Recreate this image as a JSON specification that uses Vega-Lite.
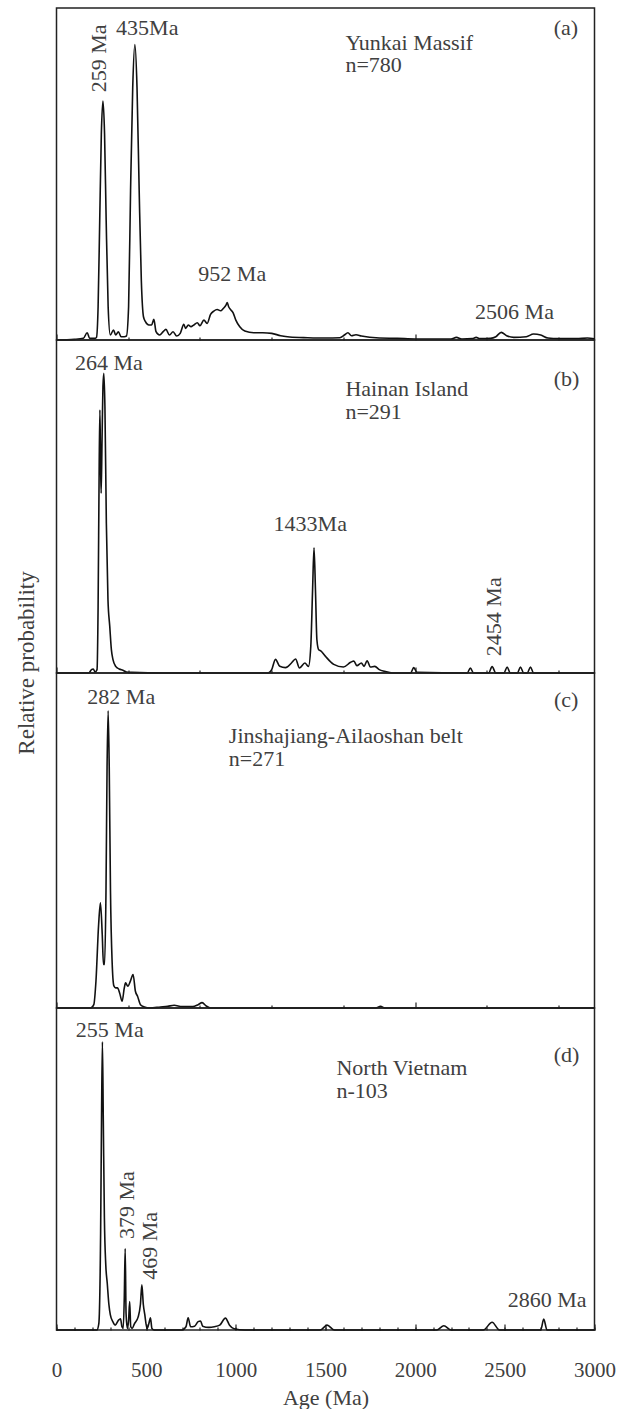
{
  "$schema": "https://vega.github.io/schema/vega-lite/v6.json",
  "padding": {"left": 14.5, "top": 7, "right": 0, "bottom": 0},
  "spacing": 0,
  "bounds": "flush",
  "title": {"text": "Relative probability", "orient": "left", "anchor": "middle", "fontSize": 23, "font": "Liberation Serif", "fontWeight": "normal", "color": "#404040", "offset": 12, "dx": 45},
  "config": {
    "view": {"stroke": "#222", "strokeWidth": 1.5},
    "font": "Liberation Serif",
    "axis": {"labelOverlap": false}
  },
  "datasets": {
    "curves": [
      {"panel":"a","age":0,"p":0},{"panel":"a","age":100,"p":0.2},{"panel":"a","age":150,"p":0.5},{"panel":"a","age":171,"p":2.2},{"panel":"a","age":185,"p":0.5},{"panel":"a","age":215,"p":0.5},
      {"panel":"a","age":223,"p":0.8},{"panel":"a","age":232,"p":10},{"panel":"a","age":241,"p":36},{"panel":"a","age":250,"p":62},{"panel":"a","age":259,"p":72},{"panel":"a","age":268,"p":62},{"panel":"a","age":277,"p":36},{"panel":"a","age":288,"p":10},{"panel":"a","age":300,"p":1.5},
      {"panel":"a","age":318,"p":3},{"panel":"a","age":330,"p":1.5},{"panel":"a","age":345,"p":2.5},{"panel":"a","age":360,"p":1},{"panel":"a","age":378,"p":1},{"panel":"a","age":390,"p":1.2},
      {"panel":"a","age":402,"p":10},{"panel":"a","age":413,"p":45},{"panel":"a","age":425,"p":76},{"panel":"a","age":437,"p":89},{"panel":"a","age":449,"p":76},{"panel":"a","age":461,"p":45},{"panel":"a","age":473,"p":18},{"panel":"a","age":485,"p":7},{"panel":"a","age":496,"p":5.5},
      {"panel":"a","age":515,"p":4.5},{"panel":"a","age":530,"p":4.5},{"panel":"a","age":543,"p":6.2},{"panel":"a","age":555,"p":2.5},{"panel":"a","age":575,"p":1.5},{"panel":"a","age":595,"p":2.5},{"panel":"a","age":610,"p":3.2},{"panel":"a","age":630,"p":1.5},{"panel":"a","age":650,"p":2.5},{"panel":"a","age":670,"p":1.2},{"panel":"a","age":690,"p":2},
      {"panel":"a","age":710,"p":4.7},{"panel":"a","age":720,"p":3.5},{"panel":"a","age":735,"p":4.5},{"panel":"a","age":750,"p":4},{"panel":"a","age":765,"p":4.5},{"panel":"a","age":785,"p":5.2},{"panel":"a","age":800,"p":4.3},{"panel":"a","age":822,"p":6},{"panel":"a","age":840,"p":5},{"panel":"a","age":859,"p":7.7},{"panel":"a","age":877,"p":8.7},{"panel":"a","age":896,"p":9.2},{"panel":"a","age":915,"p":8.8},{"panel":"a","age":930,"p":9.5},{"panel":"a","age":945,"p":10.5},{"panel":"a","age":952,"p":11.3},{"panel":"a","age":960,"p":10},{"panel":"a","age":970,"p":9.2},{"panel":"a","age":985,"p":8.2},{"panel":"a","age":1000,"p":6},{"panel":"a","age":1022,"p":4},{"panel":"a","age":1050,"p":2.7},
      {"panel":"a","age":1100,"p":2.2},{"panel":"a","age":1150,"p":2.2},{"panel":"a","age":1200,"p":2},{"panel":"a","age":1250,"p":1.3},{"panel":"a","age":1300,"p":0.9},{"panel":"a","age":1400,"p":0.7},{"panel":"a","age":1500,"p":0.6},{"panel":"a","age":1580,"p":0.7},{"panel":"a","age":1605,"p":1.5},{"panel":"a","age":1625,"p":2.2},{"panel":"a","age":1645,"p":1.3},{"panel":"a","age":1670,"p":1.6},{"panel":"a","age":1700,"p":1.2},{"panel":"a","age":1800,"p":0.6},{"panel":"a","age":1900,"p":0.5},{"panel":"a","age":2000,"p":0.3},{"panel":"a","age":2100,"p":0.3},{"panel":"a","age":2200,"p":0.3},{"panel":"a","age":2230,"p":0.8},{"panel":"a","age":2260,"p":0.3},{"panel":"a","age":2320,"p":0.4},{"panel":"a","age":2340,"p":0.8},{"panel":"a","age":2360,"p":0.4},{"panel":"a","age":2420,"p":0.5},{"panel":"a","age":2450,"p":1},{"panel":"a","age":2480,"p":2.3},{"panel":"a","age":2510,"p":1.3},{"panel":"a","age":2550,"p":0.8},{"panel":"a","age":2620,"p":1},{"panel":"a","age":2660,"p":1.8},{"panel":"a","age":2700,"p":1.5},{"panel":"a","age":2740,"p":0.6},{"panel":"a","age":2800,"p":0.4},{"panel":"a","age":2900,"p":0.4},{"panel":"a","age":2960,"p":0.6},{"panel":"a","age":3000,"p":0.4},

      {"panel":"b","age":0,"p":0},{"panel":"b","age":180,"p":0},{"panel":"b","age":195,"p":1},{"panel":"b","age":205,"p":1.2},{"panel":"b","age":215,"p":0.3},{"panel":"b","age":226,"p":1},{"panel":"b","age":232,"p":20},{"panel":"b","age":238,"p":62},{"panel":"b","age":242,"p":79},{"panel":"b","age":246,"p":62},{"panel":"b","age":249,"p":54},{"panel":"b","age":254,"p":70},{"panel":"b","age":259,"p":86},{"panel":"b","age":264,"p":90},{"panel":"b","age":270,"p":80},{"panel":"b","age":278,"p":45},{"panel":"b","age":287,"p":22},{"panel":"b","age":297,"p":14},{"panel":"b","age":306,"p":7},{"panel":"b","age":315,"p":4},{"panel":"b","age":330,"p":2},{"panel":"b","age":350,"p":1.2},{"panel":"b","age":370,"p":0.8},{"panel":"b","age":390,"p":0.3},{"panel":"b","age":420,"p":0.2},{"panel":"b","age":600,"p":0},
      {"panel":"b","age":1180,"p":0},{"panel":"b","age":1200,"p":1},{"panel":"b","age":1221,"p":4.1},{"panel":"b","age":1245,"p":2},{"panel":"b","age":1277,"p":1.6},{"panel":"b","age":1310,"p":3},{"panel":"b","age":1333,"p":4.2},{"panel":"b","age":1355,"p":1.5},{"panel":"b","age":1385,"p":3},{"panel":"b","age":1405,"p":2},{"panel":"b","age":1418,"p":8},{"panel":"b","age":1428,"p":25},{"panel":"b","age":1436,"p":37.6},{"panel":"b","age":1444,"p":25},{"panel":"b","age":1452,"p":10},{"panel":"b","age":1462,"p":7},{"panel":"b","age":1475,"p":6.6},{"panel":"b","age":1500,"p":5},{"panel":"b","age":1546,"p":2.6},{"panel":"b","age":1600,"p":1.8},{"panel":"b","age":1640,"p":3.2},{"panel":"b","age":1658,"p":3.6},{"panel":"b","age":1675,"p":2.2},{"panel":"b","age":1700,"p":3},{"panel":"b","age":1715,"p":2},{"panel":"b","age":1732,"p":3.7},{"panel":"b","age":1750,"p":1.8},{"panel":"b","age":1775,"p":2},{"panel":"b","age":1800,"p":1},{"panel":"b","age":1830,"p":0.5},{"panel":"b","age":1872,"p":0},{"panel":"b","age":1975,"p":0},{"panel":"b","age":1992,"p":1.6},{"panel":"b","age":2010,"p":0.2},{"panel":"b","age":2290,"p":0},{"panel":"b","age":2308,"p":1.5},{"panel":"b","age":2325,"p":0},{"panel":"b","age":2410,"p":0},{"panel":"b","age":2429,"p":1.9},{"panel":"b","age":2450,"p":0},{"panel":"b","age":2495,"p":0},{"panel":"b","age":2513,"p":1.8},{"panel":"b","age":2530,"p":0},{"panel":"b","age":2570,"p":0},{"panel":"b","age":2587,"p":1.8},{"panel":"b","age":2605,"p":0},{"panel":"b","age":2625,"p":0},{"panel":"b","age":2643,"p":1.8},{"panel":"b","age":2660,"p":0},{"panel":"b","age":3000,"p":0},

      {"panel":"c","age":0,"p":0},{"panel":"c","age":190,"p":0},{"panel":"c","age":208,"p":1},{"panel":"c","age":220,"p":8},{"panel":"c","age":235,"p":25},{"panel":"c","age":245,"p":31.4},{"panel":"c","age":255,"p":22},{"panel":"c","age":262,"p":13},{"panel":"c","age":268,"p":13},{"panel":"c","age":276,"p":35},{"panel":"c","age":282,"p":72},{"panel":"c","age":288,"p":88.7},{"panel":"c","age":294,"p":72},{"panel":"c","age":301,"p":35},{"panel":"c","age":310,"p":14},{"panel":"c","age":320,"p":6.6},{"panel":"c","age":330,"p":6},{"panel":"c","age":340,"p":6},{"panel":"c","age":352,"p":4.5},{"panel":"c","age":366,"p":2},{"panel":"c","age":378,"p":6},{"panel":"c","age":385,"p":7.5},{"panel":"c","age":398,"p":6.5},{"panel":"c","age":412,"p":8},{"panel":"c","age":427,"p":10},{"panel":"c","age":440,"p":5},{"panel":"c","age":452,"p":3.5},{"panel":"c","age":468,"p":1},{"panel":"c","age":490,"p":0.3},{"panel":"c","age":520,"p":0},{"panel":"c","age":580,"p":0.3},{"panel":"c","age":620,"p":0.5},{"panel":"c","age":656,"p":0.8},{"panel":"c","age":700,"p":0.4},{"panel":"c","age":760,"p":0.4},{"panel":"c","age":790,"p":1},{"panel":"c","age":812,"p":1.6},{"panel":"c","age":835,"p":0.6},{"panel":"c","age":860,"p":0},{"panel":"c","age":1780,"p":0},{"panel":"c","age":1807,"p":0.5},{"panel":"c","age":1830,"p":0},{"panel":"c","age":3000,"p":0},

      {"panel":"d","age":0,"p":0},{"panel":"d","age":225,"p":0},{"panel":"d","age":236,"p":2},{"panel":"d","age":246,"p":30},{"panel":"d","age":251,"p":65},{"panel":"d","age":256,"p":89.5},{"panel":"d","age":261,"p":65},{"panel":"d","age":267,"p":35},{"panel":"d","age":275,"p":20},{"panel":"d","age":283,"p":14.5},{"panel":"d","age":292,"p":8},{"panel":"d","age":300,"p":4.8},{"panel":"d","age":315,"p":2.5},{"panel":"d","age":327,"p":1.5},{"panel":"d","age":345,"p":3},{"panel":"d","age":357,"p":3.5},{"panel":"d","age":365,"p":1},{"panel":"d","age":372,"p":0.5},{"panel":"d","age":378,"p":10},{"panel":"d","age":383,"p":25.3},{"panel":"d","age":388,"p":5},{"panel":"d","age":395,"p":0.5},{"panel":"d","age":402,"p":3},{"panel":"d","age":408,"p":8.8},{"panel":"d","age":414,"p":1},{"panel":"d","age":422,"p":0.5},{"panel":"d","age":435,"p":2},{"panel":"d","age":455,"p":4},{"panel":"d","age":468,"p":8},{"panel":"d","age":476,"p":14},{"panel":"d","age":484,"p":8},{"panel":"d","age":492,"p":4.9},{"panel":"d","age":505,"p":0.5},{"panel":"d","age":515,"p":2},{"panel":"d","age":524,"p":3.8},{"panel":"d","age":532,"p":0.5},{"panel":"d","age":545,"p":0},{"panel":"d","age":700,"p":0},{"panel":"d","age":722,"p":1},{"panel":"d","age":734,"p":3.8},{"panel":"d","age":748,"p":1},{"panel":"d","age":770,"p":1.2},{"panel":"d","age":790,"p":2.6},{"panel":"d","age":803,"p":2.8},{"panel":"d","age":815,"p":1.2},{"panel":"d","age":850,"p":0.8},{"panel":"d","age":880,"p":1},{"panel":"d","age":910,"p":1.5},{"panel":"d","age":942,"p":3.7},{"panel":"d","age":965,"p":1.5},{"panel":"d","age":990,"p":0.4},{"panel":"d","age":1050,"p":0},{"panel":"d","age":1470,"p":0},{"panel":"d","age":1509,"p":1.5},{"panel":"d","age":1550,"p":0},{"panel":"d","age":2120,"p":0},{"panel":"d","age":2160,"p":1.3},{"panel":"d","age":2200,"p":0},{"panel":"d","age":2380,"p":0},{"panel":"d","age":2429,"p":2.4},{"panel":"d","age":2470,"p":0},{"panel":"d","age":2700,"p":0},{"panel":"d","age":2717,"p":3.4},{"panel":"d","age":2735,"p":0},{"panel":"d","age":3000,"p":0}
    ],
    "labels": [
      {"panel":"a","kind":"peak","age":506,"p":92,"text":"435Ma"},
      {"panel":"a","kind":"rot","age":236,"p":84.8,"text":"259 Ma"},
      {"panel":"a","kind":"peak","age":980,"p":17.8,"text":"952 Ma"},
      {"panel":"a","kind":"name","age":1611,"p":87.3,"text":"Yunkai Massif"},
      {"panel":"a","kind":"name","age":1611,"p":80.8,"text":"n=780"},
      {"panel":"a","kind":"peak","age":2841,"p":92,"text":"(a)"},
      {"panel":"a","kind":"peak","age":2554,"p":6.2,"text":"2506 Ma"},
      {"panel":"b","kind":"peak","age":292,"p":91,"text":"264 Ma"},
      {"panel":"b","kind":"name","age":1611,"p":83.2,"text":"Hainan Island"},
      {"panel":"b","kind":"name","age":1611,"p":76.2,"text":"n=291"},
      {"panel":"b","kind":"peak","age":2844,"p":86.2,"text":"(b)"},
      {"panel":"b","kind":"peak","age":1415,"p":42.6,"text":"1433Ma"},
      {"panel":"b","kind":"rot","age":2442,"p":16.9,"text":"2454 Ma"},
      {"panel":"c","kind":"peak","age":361,"p":90.7,"text":"282 Ma"},
      {"panel":"c","kind":"name","age":961,"p":79,"text":"Jinshajiang-Ailaoshan belt"},
      {"panel":"c","kind":"name","age":961,"p":72.2,"text":"n=271"},
      {"panel":"c","kind":"peak","age":2842,"p":90,"text":"(c)"},
      {"panel":"d","kind":"peak","age":297,"p":91,"text":"255 Ma"},
      {"panel":"d","kind":"rot","age":394,"p":38.8,"text":"379 Ma"},
      {"panel":"d","kind":"rot","age":520,"p":26.1,"text":"469 Ma"},
      {"panel":"d","kind":"name","age":1561,"p":79.2,"text":"North Vietnam"},
      {"panel":"d","kind":"name","age":1561,"p":72,"text":"n-103"},
      {"panel":"d","kind":"peak","age":2844,"p":83.3,"text":"(d)"},
      {"panel":"d","kind":"peak","age":2736,"p":7.2,"text":"2860 Ma"}
    ]
  },
  "vconcat": [
    {
      "width": 538, "height": 332,
      "layer": [
        {"data": {"name": "curves"}, "transform": [{"filter": "datum.panel === 'a'"}],
         "mark": {"type": "line", "interpolate": "monotone", "color": "#111", "strokeWidth": 1.6},
         "encoding": {
           "x": {"field": "age", "type": "quantitative", "scale": {"domain": [0, 3000], "nice": false},
                 "axis": {"values": [0,100,200,300,400,500,600,700,800,900,1000,1100,1200,1300,1400,1500,1600,1700,1800,1900,2000,2100,2200,2300,2400,2500,2600,2700,2800,2900,3000], "labels": false, "title": null, "domain": false, "grid": false, "tickColor": "#222", "tickWidth": 1.2, "tickSize": {"condition": {"test": "datum.value % 500 === 0", "value": -6}, "value": -3}}},
           "y": {"field": "p", "type": "quantitative", "scale": {"domain": [0, 100], "nice": false}, "axis": null}
         }},
        {"data": {"name": "labels"}, "transform": [{"filter": "datum.panel === 'a' && datum.kind === 'peak'"}],
         "mark": {"type": "text", "align": "center", "baseline": "alphabetic", "font": "Liberation Serif", "fontSize": 22, "color": "#404040"},
         "encoding": {"x": {"field": "age", "type": "quantitative"}, "y": {"field": "p", "type": "quantitative"}, "text": {"field": "text"}}},
        {"data": {"name": "labels"}, "transform": [{"filter": "datum.panel === 'a' && datum.kind === 'name'"}],
         "mark": {"type": "text", "align": "left", "baseline": "alphabetic", "font": "Liberation Serif", "fontSize": 22, "color": "#404040"},
         "encoding": {"x": {"field": "age", "type": "quantitative"}, "y": {"field": "p", "type": "quantitative"}, "text": {"field": "text"}}},
        {"data": {"name": "labels"}, "transform": [{"filter": "datum.panel === 'a' && datum.kind === 'rot'"}],
         "mark": {"type": "text", "align": "center", "baseline": "middle", "angle": 270, "font": "Liberation Serif", "fontSize": 22, "color": "#404040"},
         "encoding": {"x": {"field": "age", "type": "quantitative"}, "y": {"field": "p", "type": "quantitative"}, "text": {"field": "text"}}}
      ]
    },
    {
      "width": 538, "height": 333,
      "layer": [
        {"data": {"name": "curves"}, "transform": [{"filter": "datum.panel === 'b'"}],
         "mark": {"type": "line", "interpolate": "monotone", "color": "#111", "strokeWidth": 1.6},
         "encoding": {
           "x": {"field": "age", "type": "quantitative", "scale": {"domain": [0, 3000], "nice": false},
                 "axis": {"values": [0,100,200,300,400,500,600,700,800,900,1000,1100,1200,1300,1400,1500,1600,1700,1800,1900,2000,2100,2200,2300,2400,2500,2600,2700,2800,2900,3000], "labels": false, "title": null, "domain": false, "grid": false, "tickColor": "#222", "tickWidth": 1.2, "tickSize": {"condition": {"test": "datum.value % 500 === 0", "value": -6}, "value": -3}}},
           "y": {"field": "p", "type": "quantitative", "scale": {"domain": [0, 100], "nice": false}, "axis": null}
         }},
        {"data": {"name": "labels"}, "transform": [{"filter": "datum.panel === 'b' && datum.kind === 'peak'"}],
         "mark": {"type": "text", "align": "center", "baseline": "alphabetic", "font": "Liberation Serif", "fontSize": 22, "color": "#404040"},
         "encoding": {"x": {"field": "age", "type": "quantitative"}, "y": {"field": "p", "type": "quantitative"}, "text": {"field": "text"}}},
        {"data": {"name": "labels"}, "transform": [{"filter": "datum.panel === 'b' && datum.kind === 'name'"}],
         "mark": {"type": "text", "align": "left", "baseline": "alphabetic", "font": "Liberation Serif", "fontSize": 22, "color": "#404040"},
         "encoding": {"x": {"field": "age", "type": "quantitative"}, "y": {"field": "p", "type": "quantitative"}, "text": {"field": "text"}}},
        {"data": {"name": "labels"}, "transform": [{"filter": "datum.panel === 'b' && datum.kind === 'rot'"}],
         "mark": {"type": "text", "align": "center", "baseline": "middle", "angle": 270, "font": "Liberation Serif", "fontSize": 22, "color": "#404040"},
         "encoding": {"x": {"field": "age", "type": "quantitative"}, "y": {"field": "p", "type": "quantitative"}, "text": {"field": "text"}}}
      ]
    },
    {
      "width": 538, "height": 335,
      "layer": [
        {"data": {"name": "curves"}, "transform": [{"filter": "datum.panel === 'c'"}],
         "mark": {"type": "line", "interpolate": "monotone", "color": "#111", "strokeWidth": 1.6},
         "encoding": {
           "x": {"field": "age", "type": "quantitative", "scale": {"domain": [0, 3000], "nice": false},
                 "axis": {"values": [0,100,200,300,400,500,600,700,800,900,1000,1100,1200,1300,1400,1500,1600,1700,1800,1900,2000,2100,2200,2300,2400,2500,2600,2700,2800,2900,3000], "labels": false, "title": null, "domain": false, "grid": false, "tickColor": "#222", "tickWidth": 1.2, "tickSize": {"condition": {"test": "datum.value % 500 === 0", "value": -6}, "value": -3}}},
           "y": {"field": "p", "type": "quantitative", "scale": {"domain": [0, 100], "nice": false}, "axis": null}
         }},
        {"data": {"name": "labels"}, "transform": [{"filter": "datum.panel === 'c' && datum.kind === 'peak'"}],
         "mark": {"type": "text", "align": "center", "baseline": "alphabetic", "font": "Liberation Serif", "fontSize": 22, "color": "#404040"},
         "encoding": {"x": {"field": "age", "type": "quantitative"}, "y": {"field": "p", "type": "quantitative"}, "text": {"field": "text"}}},
        {"data": {"name": "labels"}, "transform": [{"filter": "datum.panel === 'c' && datum.kind === 'name'"}],
         "mark": {"type": "text", "align": "left", "baseline": "alphabetic", "font": "Liberation Serif", "fontSize": 22, "color": "#404040"},
         "encoding": {"x": {"field": "age", "type": "quantitative"}, "y": {"field": "p", "type": "quantitative"}, "text": {"field": "text"}}}
      ]
    },
    {
      "width": 538, "height": 322,
      "resolve": {"axis": {"x": "independent"}},
      "layer": [
        {"data": {"name": "curves"}, "transform": [{"filter": "datum.panel === 'd'"}],
         "mark": {"type": "line", "interpolate": "monotone", "color": "#111", "strokeWidth": 1.6},
         "encoding": {
           "x": {"field": "age", "type": "quantitative", "scale": {"domain": [0, 3000], "nice": false},
                 "axis": {"orient": "bottom", "values": [0,500,1000,1500,2000,2500,3000], "format": "d", "labelFont": "Liberation Serif", "labelFontSize": 21, "labelColor": "#404040", "labelPadding": 35, "labelFlush": false, "labelOverlap": false, "title": "Age (Ma)", "titleFont": "Liberation Serif", "titleFontSize": 22, "titleFontWeight": "normal", "titleColor": "#404040", "titlePadding": 7, "domain": false, "grid": false, "tickColor": "#222", "tickWidth": 1.2, "tickSize": -6}},
           "y": {"field": "p", "type": "quantitative", "scale": {"domain": [0, 100], "nice": false}, "axis": null}
         }},
        {"data": {"name": "labels"}, "transform": [{"filter": "datum.panel === 'd' && datum.kind === 'peak'"}],
         "mark": {"type": "text", "align": "center", "baseline": "alphabetic", "font": "Liberation Serif", "fontSize": 22, "color": "#404040"},
         "encoding": {"x": {"field": "age", "type": "quantitative",
                 "axis": {"orient": "bottom", "values": [0,100,200,300,400,500,600,700,800,900,1000,1100,1200,1300,1400,1500,1600,1700,1800,1900,2000,2100,2200,2300,2400,2500,2600,2700,2800,2900,3000], "labels": false, "title": null, "domain": false, "grid": false, "tickColor": "#222", "tickWidth": 1.2, "tickSize": -3}},
                      "y": {"field": "p", "type": "quantitative"}, "text": {"field": "text"}}},
        {"data": {"name": "labels"}, "transform": [{"filter": "datum.panel === 'd' && datum.kind === 'name'"}],
         "mark": {"type": "text", "align": "left", "baseline": "alphabetic", "font": "Liberation Serif", "fontSize": 22, "color": "#404040"},
         "encoding": {"x": {"field": "age", "type": "quantitative", "axis": null}, "y": {"field": "p", "type": "quantitative"}, "text": {"field": "text"}}},
        {"data": {"name": "labels"}, "transform": [{"filter": "datum.panel === 'd' && datum.kind === 'rot'"}],
         "mark": {"type": "text", "align": "center", "baseline": "middle", "angle": 270, "font": "Liberation Serif", "fontSize": 22, "color": "#404040"},
         "encoding": {"x": {"field": "age", "type": "quantitative", "axis": null}, "y": {"field": "p", "type": "quantitative"}, "text": {"field": "text"}}}
      ]
    }
  ]
}
